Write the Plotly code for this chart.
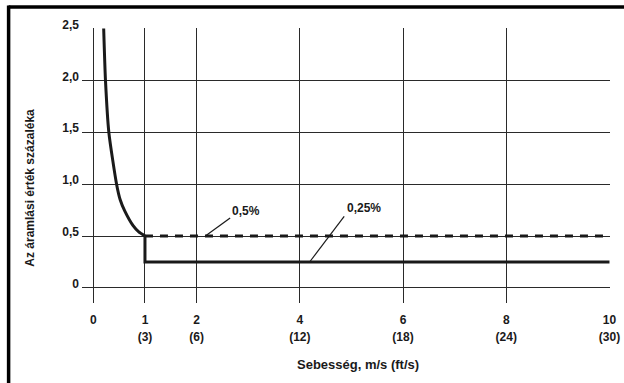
import plotly.graph_objects as go

# Axis ticks
speed_ticks = [0, 1, 2, 4, 6, 8, 10]
speed_ticks_fts = [None, 3, 6, 12, 18, 24, 30]
pct_ticks = [0, 0.5, 1.0, 1.5, 2.0, 2.5]
pct_tick_text = ["0", "0,5", "1,0", "1,5", "2,0", "2,5"]

# Error curve at low speed (m/s, %)
curve_speed = [0.20, 0.235, 0.30, 0.45, 0.52, 0.61, 0.77, 0.88, 1.0]
curve_pct = [2.5, 2.0, 1.5, 1.0, 0.85, 0.74, 0.60, 0.54, 0.5]

# Constant accuracy bands above 1 m/s
band_speed = [1, 10]
band_half = [0.5, 0.5]
band_quarter = [0.25, 0.25]

# Labels for the two bands: text, leader start (on line), leader end (near text)
label_text = ["0,5%", "0,25%"]
label_start_x = [2.17, 4.19]
label_start_y = [0.5, 0.25]
label_end_x = [2.65, 4.86]
label_end_y = [0.675, 0.69]
label_x = [2.95, 5.25]
label_y = [0.743, 0.775]

FONT = "Liberation Sans, Arial, sans-serif"
INK = "#1a1a1a"
GRID = "#2a2a2a"
bold = lambda size: dict(family=FONT, size=size, color=INK, weight="bold")

fig = go.Figure()

fig.add_trace(go.Scatter(
    x=band_speed, y=band_half, mode="lines",
    line=dict(color=INK, width=3, dash="8px,7px"),
    hoverinfo="skip", showlegend=False,
))

# Solid line: curve down to 0.5 at 1 m/s, step down to 0.25, then flat
fig.add_trace(go.Scatter(
    x=curve_speed, y=curve_pct, mode="lines",
    line=dict(color=INK, width=3, shape="spline", smoothing=0.6),
    hoverinfo="skip", showlegend=False,
))
fig.add_trace(go.Scatter(
    x=[curve_speed[-1], band_speed[0], band_speed[1]],
    y=[curve_pct[-1], band_quarter[0], band_quarter[1]],
    mode="lines",
    line=dict(color=INK, width=3),
    hoverinfo="skip", showlegend=False,
))

# Invisible trace that carries the secondary (ft/s) tick axis
fig.add_trace(go.Scatter(
    x=band_speed, y=band_half, xaxis="x2", mode="lines",
    line=dict(width=0), opacity=0, hoverinfo="skip", showlegend=False,
))

for t, sx, sy, ex, ey, tx, ty in zip(label_text, label_start_x, label_start_y,
                                      label_end_x, label_end_y, label_x, label_y):
    fig.add_shape(type="line", x0=sx, y0=sy, x1=ex, y1=ey,
                  xref="x", yref="y", line=dict(color=INK, width=1.2))
    fig.add_annotation(x=tx, y=ty, xref="x", yref="y", text=t, showarrow=False,
                       xanchor="center", yanchor="middle", font=bold(12))

# Outer frame (top and left)
fig.add_shape(type="line", xref="paper", yref="paper",
              x0=-0.139, y0=1.076, x1=1.05, y1=1.076,
              line=dict(color="black", width=3.5))
fig.add_shape(type="line", xref="paper", yref="paper",
              x0=-0.139, y0=1.082, x1=-0.139, y1=-0.3,
              line=dict(color="black", width=3.5))

# Axis titles
fig.add_annotation(xref="paper", yref="paper", x=-0.1, y=0.42,
                   xanchor="center", yanchor="middle",
                   text="Az áramlási érték százaléka", textangle=-90,
                   showarrow=False, font=bold(12))
fig.add_annotation(xref="paper", yref="paper", x=0.523, y=-0.222,
                   xanchor="center", yanchor="middle",
                   text="Sebesség, m/s (ft/s)", showarrow=False,
                   font=bold(13))

fts_vals = [m for m, f in zip(speed_ticks, speed_ticks_fts) if f is not None]
fts_text = [f"({f})" for f in speed_ticks_fts if f is not None]

x_range = [-0.22, 10.01]
fig.update_layout(
    width=624, height=383,
    margin=dict(l=82, r=14, t=28, b=80),
    paper_bgcolor="white", plot_bgcolor="white",
    font=dict(family=FONT, size=12, color=INK),
    xaxis=dict(
        range=x_range, tickvals=speed_ticks,
        ticktext=[str(v) for v in speed_ticks],
        showgrid=True, gridcolor=GRID, gridwidth=1.4, zeroline=False,
        showline=False, ticks="", fixedrange=True, automargin=False,
        tickfont=bold(12), ticklabelstandoff=8,
    ),
    xaxis2=dict(
        range=x_range, overlaying="x", side="bottom", anchor="y",
        tickvals=fts_vals, ticktext=fts_text,
        showgrid=False, zeroline=False, showline=False, ticks="",
        fixedrange=True, automargin=False,
        tickfont=bold(12), ticklabelstandoff=25,
    ),
    yaxis=dict(
        range=[-0.145, 2.505], tickvals=pct_ticks, ticktext=pct_tick_text,
        showgrid=True, gridcolor=GRID, gridwidth=1.4, zeroline=False,
        showline=False, ticks="", fixedrange=True, automargin=False,
        tickfont=bold(12), ticklabelshift=-4, ticklabelstandoff=2,
    ),
)

fig.write_html("out.html")
